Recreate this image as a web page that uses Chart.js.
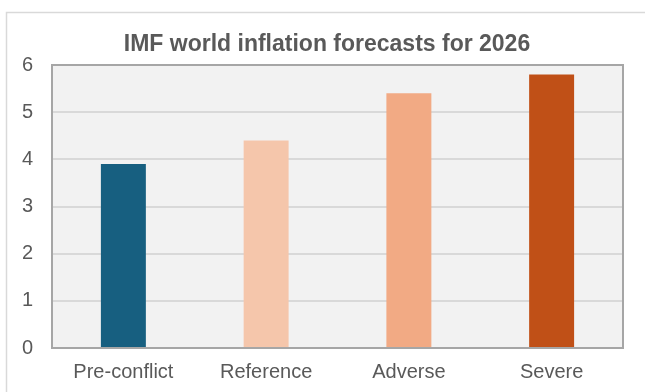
<!DOCTYPE html>
<html>
<head>
<meta charset="utf-8">
<script src="https://cdn.jsdelivr.net/npm/chart.js@4"></script>
<style>
  body { margin: 0; background: #fff; }
  #wrap { width: 645px; height: 392px; }
</style>
</head>
<body>
<div id="wrap"><canvas id="grafica"></canvas></div>
<script>
let categorias = ['Pre-conflict', 'Reference', 'Adverse', 'Severe'];
let inflacion = [3.9, 4.4, 5.4, 5.8];
let colores = ['#175f80', '#f5c6ab', '#f2aa84', '#c05017'];
let ticksY = [0, 1, 2, 3, 4, 5, 6];

// fondo gris del area, marco exterior y titulo
let marco = {
    id: 'marco',
    beforeDraw(chart) {
        let c = chart.ctx;
        let a = chart.chartArea;
        c.save();
        c.strokeStyle = '#d9d9d9';
        c.lineWidth = 1.5;
        c.strokeRect(6.5, 12.5, 800, 500);
        c.fillStyle = '#f2f2f2';
        c.fillRect(a.left, a.top, a.right - a.left, a.bottom - a.top);
        c.fillStyle = '#595959';
        c.font = 'bold 23px "Liberation Sans", Arial, sans-serif';
        c.textAlign = 'center';
        c.textBaseline = 'alphabetic';
        c.fillText('IMF world inflation forecasts for 2026', 327, 51);
        c.restore();
    },
    afterDatasetsDraw(chart) {
        let c = chart.ctx;
        let a = chart.chartArea;
        c.save();
        c.strokeStyle = '#a6a6a6';
        c.lineWidth = 2;
        c.strokeRect(a.left, a.top, a.right - a.left, a.bottom - a.top);
        c.restore();
    }
};

let ctx = document.getElementById('grafica').getContext('2d');
let grafica = new Chart(ctx, {
    type: 'bar',
    data: {
        labels: categorias,
        datasets: [{
            label: 'Inflation',
            data: inflacion,
            backgroundColor: colores,
            barPercentage: 0.315,
            categoryPercentage: 1
        }]
    },
    options: {
        responsive: true,
        maintainAspectRatio: false,
        animation: false,
        layout: { padding: { top: 65, right: 22, left: 0, bottom: 0 } },
        plugins: {
            legend: { display: false },
            title: { display: false },
            tooltip: { enabled: false }
        },
        scales: {
            x: {
                grid: { display: false, drawTicks: false },
                border: { display: false },
                ticks: {
                    color: '#595959',
                    padding: 12,
                    font: { family: '"Liberation Sans", Arial, sans-serif', size: 20 }
                },
                afterFit(scale) { scale.height = 44; }
            },
            y: {
                min: 0,
                max: 6,
                afterBuildTicks(scale) { scale.ticks = ticksY.map(v => ({ value: v })); },
                grid: { color: '#d9d9d9', lineWidth: 2, drawTicks: false },
                border: { display: false },
                ticks: {
                    color: '#595959',
                    padding: 19,
                    font: { family: '"Liberation Sans", Arial, sans-serif', size: 20 }
                },
                afterFit(scale) { scale.width = 52; }
            }
        }
    },
    plugins: [marco]
});
</script>
</body>
</html>
